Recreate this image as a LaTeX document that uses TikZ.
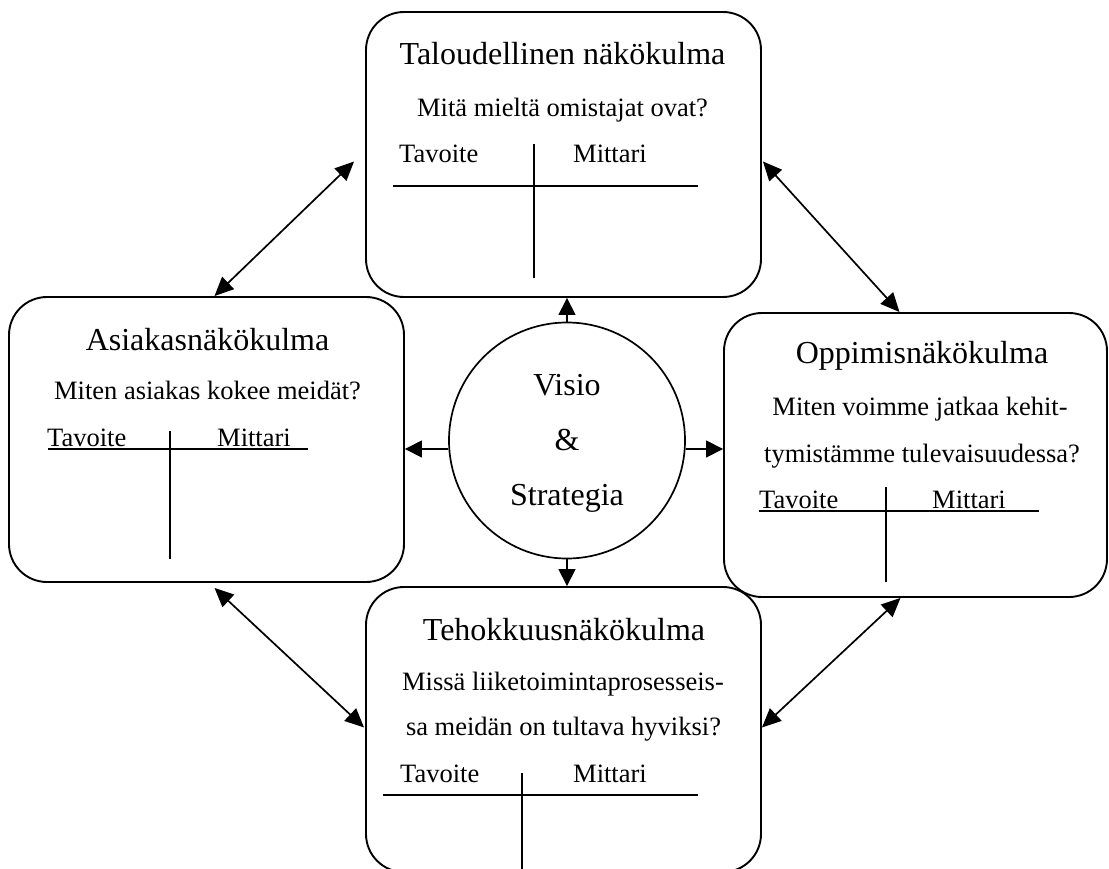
\documentclass[tikz,border=0pt]{standalone}
\usepackage{fontspec}
\setmainfont{Liberation Serif}
\usetikzlibrary{arrows.meta, positioning, calc}
\tikzset{
  boxnode/.style={rectangle, draw, rounded corners=38pt, line width=1.9pt},
  hubnode/.style={circle, draw, line width=1.7pt, minimum size=236pt, inner sep=0pt},
  titletext/.style={anchor=base, inner sep=0pt, font=\fontsize{32}{38}\selectfont},
  asktext/.style={anchor=base, inner sep=0pt, font=\fontsize{26.5}{32}\selectfont},
  coltext/.style={anchor=base west, inner sep=0pt, font=\fontsize{26.5}{32}\selectfont},
  rule/.style={line width=1.8pt},
  link/.style={line width=1.7pt, {Triangle[length=19pt,width=17pt]}-{Triangle[length=19pt,width=17pt]}},
  spoke/.style={line width=1.6pt, -{Triangle[length=17pt,width=17pt]}},
}
\begin{document}
\begin{tikzpicture}[x=1pt, y=-1pt]
\useasboundingbox (0,0) rectangle (1109,869);

% the four perspectives and the hub
\node[boxnode, minimum width=395pt, minimum height=285pt] (talous) at (563.5,154.5) {};
\node[boxnode, minimum width=395pt, minimum height=285pt] (asiakas) at (206.5,439.5) {};
\node[boxnode, minimum width=383pt, minimum height=284pt] (oppiminen) at (915.5,455) {};
\node[boxnode, minimum width=395pt, minimum height=285pt] (tehokkuus) at (563.5,729.5) {};
\node[hubnode] (visio) at (567,440.5) {};

% hub text
\node[titletext] (visio1) at (567,395) {Visio};
\node[titletext] (visio2) at (567,450) {\&};
\node[titletext] (visio3) at (567,505) {Strategia};

% taloudellinen
\node[titletext] (talousotsikko) at (562.5,65) {Taloudellinen näkökulma};
\node[asktext] (talouskysymys) at (562.5,117) {Mitä mieltä omistajat ovat?};
\node[coltext] (taloustavoite) at (399,163) {Tavoite};
\node[coltext] (talousmittari) at (573,163) {Mittari};
\draw[rule] (393,186) -- (698,186);
\draw[rule] (534,144) -- (534,278);

% asiakas
\node[titletext] (asiakasotsikko) at (207.5,350) {Asiakasnäkökulma};
\node[asktext] (asiakaskysymys) at (207.5,399) {Miten asiakas kokee meidät?};
\node[coltext] (asiakastavoite) at (47,446) {Tavoite};
\node[coltext] (asiakasmittari) at (217,446) {Mittari};
\draw[rule] (48,449) -- (308,449);
\draw[rule] (170,431) -- (170,559);

% oppiminen
\node[titletext] (oppimisotsikko) at (922,363) {Oppimisnäkökulma};
\node[asktext] (oppimiskysymys1) at (920,415) {Miten voimme jatkaa kehit-};
\node[asktext] (oppimiskysymys2) at (922,462) {tymistämme tulevaisuudessa?};
\node[coltext] (oppimistavoite) at (759,508) {Tavoite};
\node[coltext] (oppimismittari) at (932,508) {Mittari};
\draw[rule] (759,511) -- (1039,511);
\draw[rule] (886,487) -- (886,582);

% tehokkuus
\node[titletext] (tehootsikko) at (564,640) {Tehokkuusnäkökulma};
\node[asktext] (tehokysymys1) at (563,690) {Missä liiketoimintaprosesseis-};
\node[asktext] (tehokysymys2) at (563.5,735) {sa meidän on tultava hyviksi?};
\node[coltext] (tehotavoite) at (400,782) {Tavoite};
\node[coltext] (tehomittari) at (573,782) {Mittari};
\draw[rule] (383,795) -- (698,795);
\draw[rule] (522,773) -- (522,880);

% arrows out of the hub
\draw[spoke] (visio.north) -- (visio.north |- talous.south);
\draw[spoke] (visio.south) -- (visio.south |- tehokkuus.north);
\draw[spoke] ([yshift=-8.5pt]visio.west) -- ([yshift=-8.5pt]visio.west -| asiakas.east);
\draw[spoke] ([yshift=-8.5pt]visio.east) -- ([yshift=-8.5pt]visio.east -| oppiminen.west);

% links between perspectives
\draw[link] ([xshift=8pt]asiakas.north) -- ([xshift=-11pt,yshift=-7pt]talous.west);
\draw[link] ([xshift=1pt,yshift=-7pt]talous.east) -- ([xshift=-16pt]oppiminen.north);
\draw[link] ([xshift=8pt,yshift=-5pt]asiakas.south) -- ([xshift=-1pt,yshift=2pt]tehokkuus.west);
\draw[link] ([xshift=-15pt]oppiminen.south) -- ([yshift=2pt]tehokkuus.east);
\end{tikzpicture}
\end{document}
